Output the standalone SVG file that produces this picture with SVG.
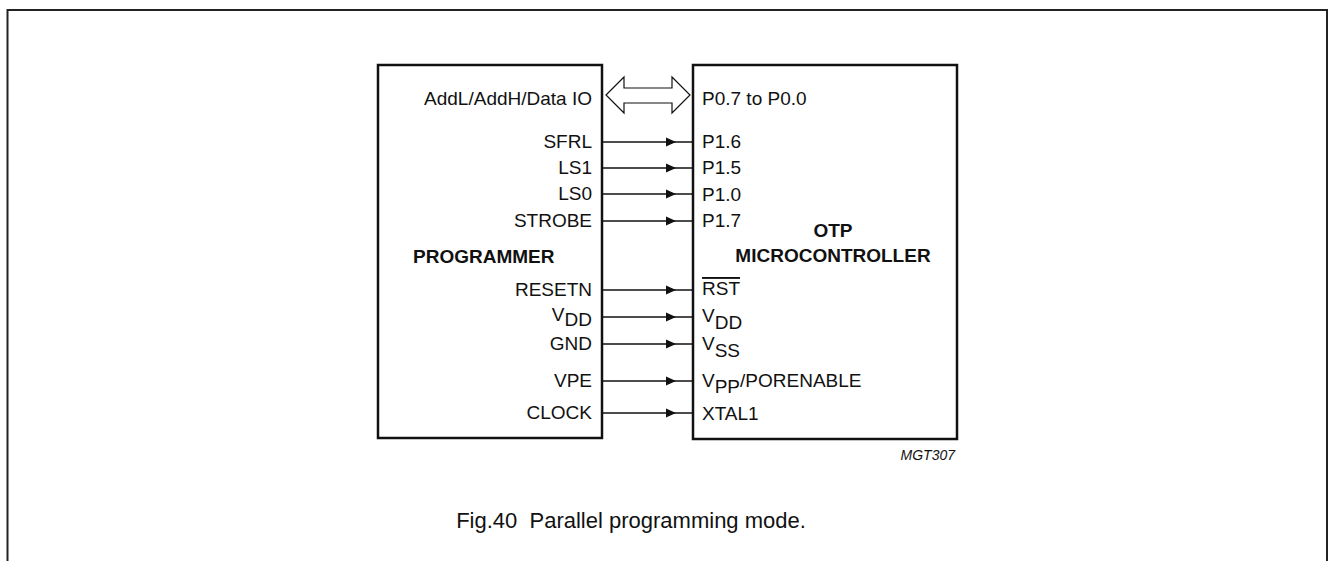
<svg xmlns="http://www.w3.org/2000/svg" width="1329" height="561" viewBox="0 0 1329 561">
<style>
text{font-family:"Liberation Sans",Arial,sans-serif;font-size:19px;fill:#111}
.b{font-weight:bold}
.r{text-anchor:end}
.box{fill:none;stroke:#111;stroke-width:2.5}
.w{fill:none;stroke:#111;stroke-width:1.3}
</style>
<defs>
<marker id="ah" viewBox="0 0 10 10" refX="10" refY="5" markerWidth="10" markerHeight="10" markerUnits="userSpaceOnUse" orient="auto">
<path d="M0,0.5 L10,5 L0,9.5 Z" fill="#111"/>
</marker>
</defs>
<path d="M7.5,561 V10 H1327 V561" fill="none" stroke="#222" stroke-width="2"/>
<g id="programmer">
<rect class="box" x="378" y="65" width="224" height="373"/>
<text class="b" x="413" y="263">PROGRAMMER</text>
<text class="r" x="592" y="105">AddL/AddH/Data IO</text>
<text class="r" x="592" y="148">SFRL</text>
<text class="r" x="592" y="174">LS1</text>
<text class="r" x="592" y="200">LS0</text>
<text class="r" x="592" y="227">STROBE</text>
<text class="r" x="592" y="296">RESETN</text>
<text class="r" x="592" y="321">V<tspan dy="5">DD</tspan></text>
<text class="r" x="592" y="350">GND</text>
<text class="r" x="592" y="387">VPE</text>
<text class="r" x="592" y="419">CLOCK</text>
</g>
<g id="microcontroller">
<rect class="box" x="693" y="65" width="264" height="374"/>
<text class="b" x="833" y="237" text-anchor="middle">OTP</text>
<text class="b" x="833" y="262" text-anchor="middle">MICROCONTROLLER</text>
<text x="702" y="105">P0.7 to P0.0</text>
<text x="702" y="148">P1.6</text>
<text x="702" y="174">P1.5</text>
<text x="702" y="201">P1.0</text>
<text x="702" y="227">P1.7</text>
<text x="702" y="295" text-decoration="overline">RST</text>
<text x="702" y="322">V<tspan dy="7">DD</tspan></text>
<text x="702" y="350">V<tspan dy="7">SS</tspan></text>
<text x="702" y="387">V<tspan dy="6">PP</tspan><tspan dy="-6">/PORENABLE</tspan></text>
<text x="702" y="420">XTAL1</text>
</g>
<g id="connectors">
<polygon points="606,95 624,77 624,88 672,88 672,77 690,95 672,113 672,103 624,103 624,113" fill="#fff" stroke="#111" stroke-width="1.2"/>
<path class="w" marker-mid="url(#ah)" d="M602,142 H676 H693"/>
<path class="w" marker-mid="url(#ah)" d="M602,168 H676 H693"/>
<path class="w" marker-mid="url(#ah)" d="M602,194 H676 H693"/>
<path class="w" marker-mid="url(#ah)" d="M602,221 H676 H693"/>
<path class="w" marker-mid="url(#ah)" d="M602,290 H676 H693"/>
<path class="w" marker-mid="url(#ah)" d="M602,317 H676 H693"/>
<path class="w" marker-mid="url(#ah)" d="M602,344 H676 H693"/>
<path class="w" marker-mid="url(#ah)" d="M602,381 H676 H693"/>
<path class="w" marker-mid="url(#ah)" d="M602,413 H676 H693"/>
</g>
<text x="955" y="460" text-anchor="end" font-style="italic" style="font-size:14px">MGT307</text>
<text x="631" y="528" text-anchor="middle" style="font-size:22px">Fig.40&#160; Parallel programming mode.</text>
</svg>
